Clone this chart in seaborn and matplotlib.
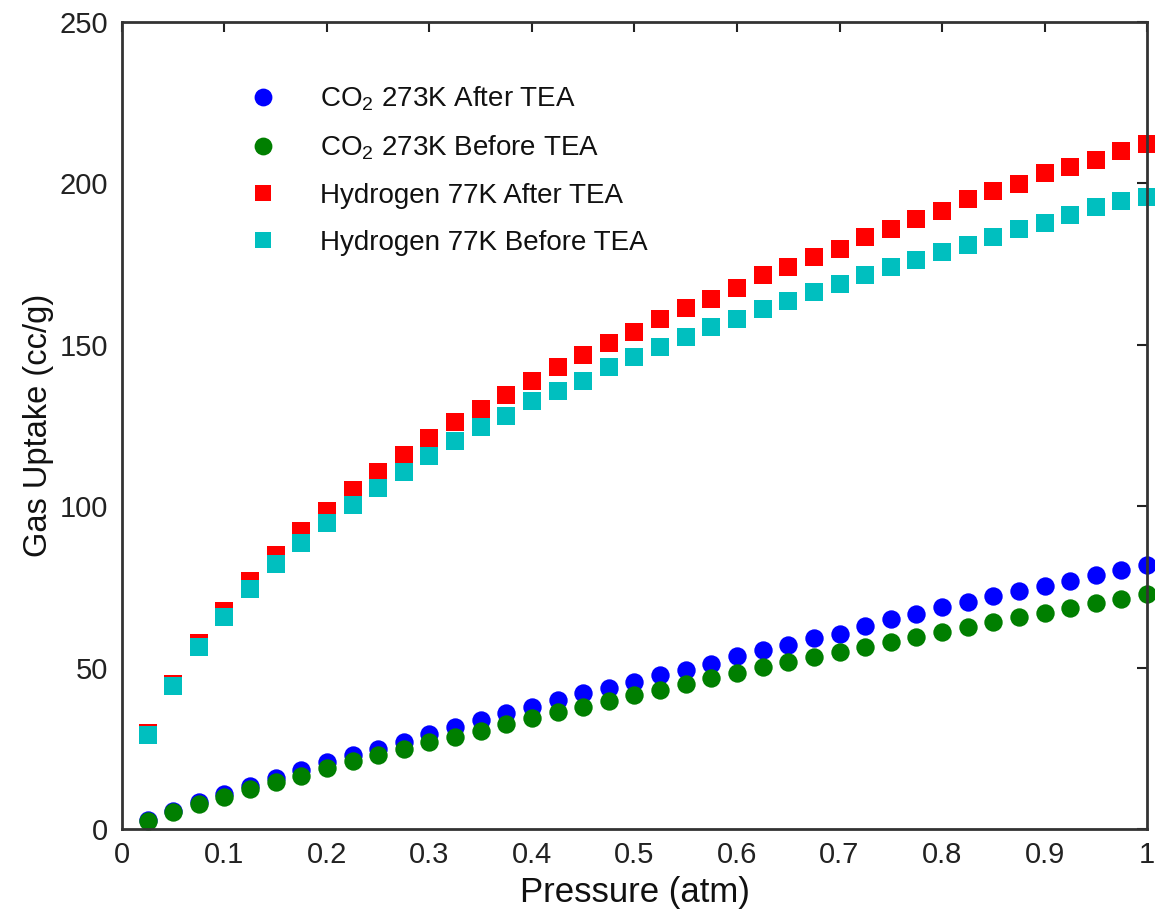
import numpy as np
import pandas as pd
import matplotlib
matplotlib.use("Agg")
import matplotlib.pyplot as plt
import seaborn as sns

# Pressure points (atm)
pressure = [round(0.025 * i, 3) for i in range(1, 41)]

co2_after = [2.8, 5.5, 8.5, 10.9, 13.3, 15.9, 18.3, 20.6, 22.8, 24.7,
             27.1, 29.3, 31.5, 33.7, 35.9, 37.9, 40.0, 42.1, 43.7, 45.6,
             47.6, 49.2, 51.2, 53.5, 55.3, 57.1, 59.1, 60.5, 63.0, 64.9,
             66.7, 68.7, 70.3, 72.1, 73.7, 75.2, 76.8, 78.6, 80.2, 81.7]
co2_before = [2.5, 5.3, 7.8, 10.0, 12.3, 14.6, 16.5, 18.8, 21.0, 22.8,
              24.9, 26.8, 28.5, 30.5, 32.4, 34.4, 36.1, 37.9, 39.8, 41.5,
              43.2, 45.0, 46.8, 48.4, 50.2, 51.6, 53.3, 54.8, 56.4, 57.9,
              59.5, 61.0, 62.6, 64.1, 65.6, 67.0, 68.5, 69.9, 71.3, 72.7]
h2_after = [29.7, 45.0, 57.6, 67.4, 76.7, 84.8, 92.2, 98.4, 105.0, 110.6,
            115.8, 121.0, 126.0, 130.1, 134.5, 138.7, 143.2, 146.7, 150.5, 154.0,
            158.0, 161.3, 164.1, 167.6, 171.6, 174.1, 177.2, 179.7, 183.4, 185.9,
            189.0, 191.5, 195.2, 197.7, 199.8, 203.3, 205.2, 207.2, 210.1, 212.2]
h2_before = [29.2, 44.4, 56.3, 65.7, 74.4, 82.0, 88.7, 94.9, 100.3, 105.7,
             110.7, 115.4, 120.2, 124.4, 127.8, 132.5, 135.7, 138.7, 143.2, 146.2,
             149.3, 152.4, 155.5, 158.0, 161.1, 163.6, 166.4, 168.8, 171.6, 174.1,
             176.3, 178.8, 180.8, 183.4, 185.9, 187.8, 190.2, 192.8, 194.6, 195.9]

series_labels = ["CO$_2$ 273K After TEA", "CO$_2$ 273K Before TEA",
                 "Hydrogen 77K After TEA", "Hydrogen 77K Before TEA"]
series_values = [co2_after, co2_before, h2_after, h2_before]
series_colors = ["#0000ff", "#007f00", "#ff0000", "#00bfbf"]
series_markers = ["o", "o", "s", "s"]
series_sizes = [175, 175, 150, 150]

x_ticks = [0, 0.1, 0.2, 0.3, 0.4, 0.5, 0.6, 0.7, 0.8, 0.9, 1]
x_tick_labels = ["0", "0.1", "0.2", "0.3", "0.4", "0.5", "0.6", "0.7", "0.8", "0.9", "1"]
y_ticks = [0, 50, 100, 150, 200, 250]

sns.set_style("white")
plt.rcParams["font.family"] = ["Liberation Sans", "DejaVu Sans"]
plt.rcParams["mathtext.fontset"] = "custom"
plt.rcParams["mathtext.rm"] = "Liberation Sans"
plt.rcParams["mathtext.it"] = "Liberation Sans:italic"
plt.rcParams["mathtext.bf"] = "Liberation Sans:bold"

fig = plt.figure(figsize=(11.55, 9.15), dpi=100)
ax = fig.add_axes([0.1056, 0.094, 0.8875, 0.882])

frames = []
for label, vals in zip(series_labels, series_values):
    frames.append(pd.DataFrame({"Pressure": pressure, "Uptake": vals, "Series": label}))
df = pd.concat(frames, ignore_index=True)

handles = []
for label, color, marker, size in zip(series_labels, series_colors, series_markers, series_sizes):
    sub = df[df["Series"] == label]
    sns.scatterplot(data=sub, x="Pressure", y="Uptake", ax=ax, color=color,
                    marker=marker, s=size, linewidth=0, legend=False, clip_on=False,
                    zorder=3)
    handles.append(plt.Line2D([], [], linestyle="none", marker=marker,
                              markersize=np.sqrt(size) * (0.97 if marker == "o" else 0.9),
                              markerfacecolor=color, markeredgewidth=0, label=label))

ax.set_xlim(0, 1)
ax.set_ylim(0, 250)
ax.set_xticks(x_ticks)
ax.set_xticklabels(x_tick_labels)
ax.set_yticks(y_ticks)
ax.tick_params(direction="in", length=7, width=1.5, top=True, right=True,
               labelsize=21, colors="#222222", pad=9)
ax.tick_params(axis="y", pad=10)
for sp in ax.spines.values():
    sp.set_visible(True)
    sp.set_color("#333333")
    sp.set_linewidth(2)
    sp.set_zorder(4)

ax.set_xlabel("Pressure (atm)", fontsize=25, color="#111111", labelpad=5)
ax.set_ylabel("Gas Uptake (cc/g)", fontsize=23.5, color="#111111", labelpad=4)

leg = ax.legend(handles=handles, loc="upper left", bbox_to_anchor=(0.124, 0.9226),
                frameon=False, fontsize=20, handlelength=1.0, handletextpad=1.55,
                labelspacing=0.75, borderaxespad=0, borderpad=0)
for t in leg.get_texts():
    t.set_color("#111111")

fig.savefig("out.png", dpi=100)
